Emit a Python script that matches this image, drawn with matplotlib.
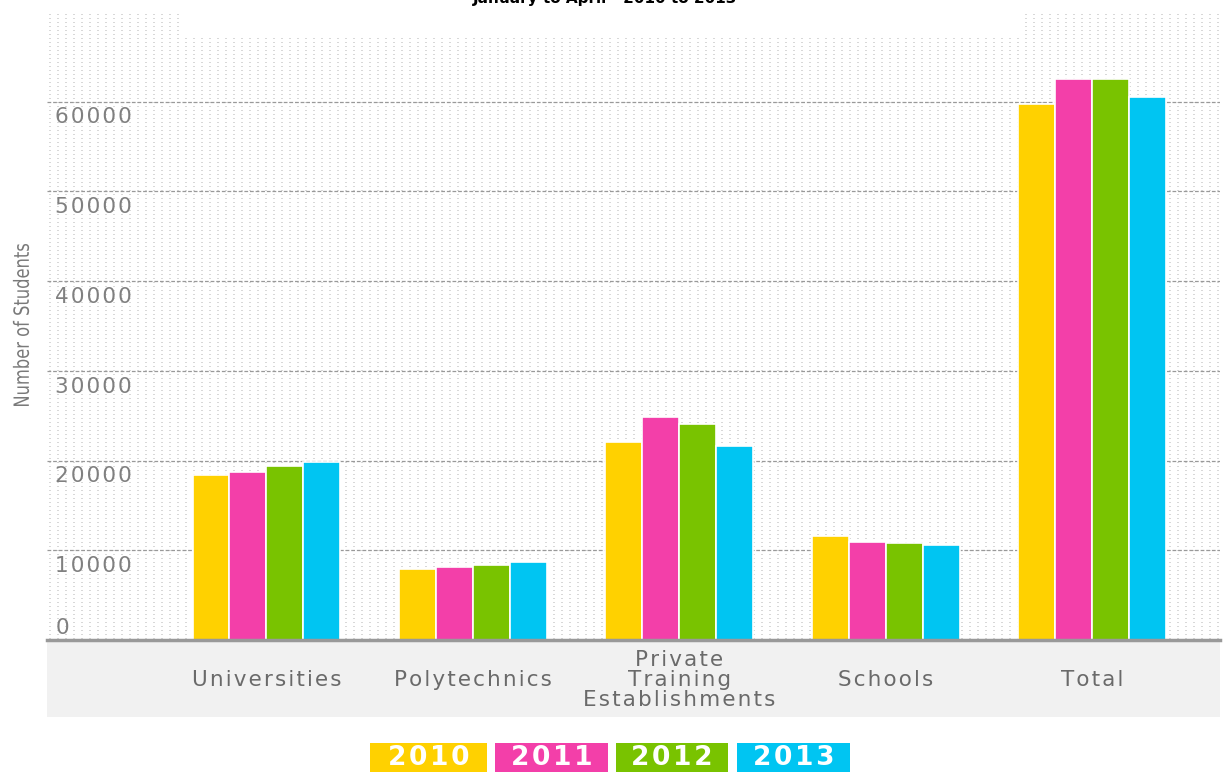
import numpy as np
import matplotlib
matplotlib.use("Agg")
from matplotlib import pyplot as plt
from matplotlib.font_manager import FontProperties
from matplotlib.patches import PathPatch, Rectangle
from matplotlib.textpath import TextPath
from matplotlib.transforms import Affine2D, IdentityTransform, blended_transform_factory

categories = ["Universities", "Polytechnics", "Private\nTraining\nEstablishments", "Schools", "Total"]
years = ["2010", "2011", "2012", "2013"]
students = {
    "2010": [18400, 7900, 22050, 11580, 59800],
    "2011": [18700, 8100, 24830, 10900, 62580],
    "2012": [19400, 8350, 24050, 10800, 62580],
    "2013": [19800, 8700, 21600, 10580, 60580],
}
colors = ["#ffd100", "#f33fa9", "#79c300", "#00c5f2"]
y_ticks = [0, 10000, 20000, 30000, 40000, 50000, 60000]


def spaced(s):
    # loose tracking: hair space between letters
    return "\n".join("\u200a".join(line) for line in s.split("\n"))


W, H = 1223, 772
fig = plt.figure(figsize=(W / 100, H / 100), dpi=100)
fig.patch.set_facecolor("white")

# plot region in pixels
left, right, top, bottom = 47, 1220, 12, 640
ax = fig.add_axes([left / W, 1 - bottom / H, (right - left) / W, (bottom - top) / H])
ax.patch.set_alpha(0)

# dotted texture behind the plot
pw, ph = right - left, bottom - top
tex = np.ones((ph, pw, 3))
for r in range(2, ph, 4):
    for c in range(2, pw, 8):
        tex[r, c:c + 2] = 0.85
tex[:23, 138:978] = 1.0
fig.figimage(tex, xo=left, yo=H - bottom, zorder=-5)

# grey band below the axis
fig.patches.append(Rectangle((left / W, (H - 717) / H), (right - left) / W, 77 / H,
                             transform=fig.transFigure, facecolor="#f1f1f1",
                             edgecolor="none", zorder=-4))

x = np.arange(len(categories))
step = 0.179
for i, (year, color) in enumerate(zip(years, colors)):
    ax.bar(x + (i - 1.5) * step, students[year], width=step, color=color,
           edgecolor="white", linewidth=1.2, zorder=3)

ax.set_xlim(-1.063, 4.62)
ax.set_ylim(0, 70000)
for v in y_ticks[1:]:
    ax.axhline(v, color="#999999", linestyle=(0, (3, 1.5)), linewidth=0.9, zorder=1)
ax.axhline(0, color="#999999", linewidth=2.5, zorder=4, clip_on=False)

for s in ax.spines.values():
    s.set_visible(False)
ax.set_xticks([])
ax.set_yticks([])

trans = blended_transform_factory(ax.transAxes, ax.transData)
for v in y_ticks:
    yy = v - 1750 if v > 0 else 1350
    ax.text(0.007, yy, spaced(str(v)), transform=trans, ha="left", va="center",
            fontsize=15.5, color="#808080", zorder=5)

for xi, name in zip(x, categories):
    ax.text(xi, -4450, spaced(name), ha="center", va="center", fontsize=15.5,
            color="#6a6a6a", linespacing=1.0, multialignment="center", clip_on=False)

# condensed y label: squeeze the glyph outlines along the text direction
tp = TextPath((0, 0), "Number of Students", size=21, prop=FontProperties(family="DejaVu Sans"))
bb = tp.get_extents()
squeeze = 162 / bb.width
lab_tf = (Affine2D().translate(-(bb.x0 + bb.x1) / 2, -(bb.y0 + bb.y1) / 2)
          .scale(squeeze, 1.0).rotate_deg(90).translate(21, H - 325))
fig.patches.append(PathPatch(lab_tf.transform_path(tp), transform=IdentityTransform(),
                             facecolor="#7a7a7a", edgecolor="none"))

fig.text(605 / W, 1 - 3 / H, "January to April - 2010 to 2013", ha="center",
         va="baseline", fontsize=11, fontweight="bold", color="black")

# legend boxes
box_left = [370, 495, 616, 737]
box_w = [117, 113, 112, 113]
for bl, bw, year, color in zip(box_left, box_w, years, colors):
    fig.patches.append(Rectangle((bl / W, 0), bw / W, 29 / H, transform=fig.transFigure,
                                 facecolor=color, edgecolor="none"))
    fig.text((bl + bw / 2) / W, 1 - 758 / H, spaced(year), ha="center", va="center",
             fontsize=19, fontweight="bold", color="white")

fig.savefig("out.png", dpi=100)
